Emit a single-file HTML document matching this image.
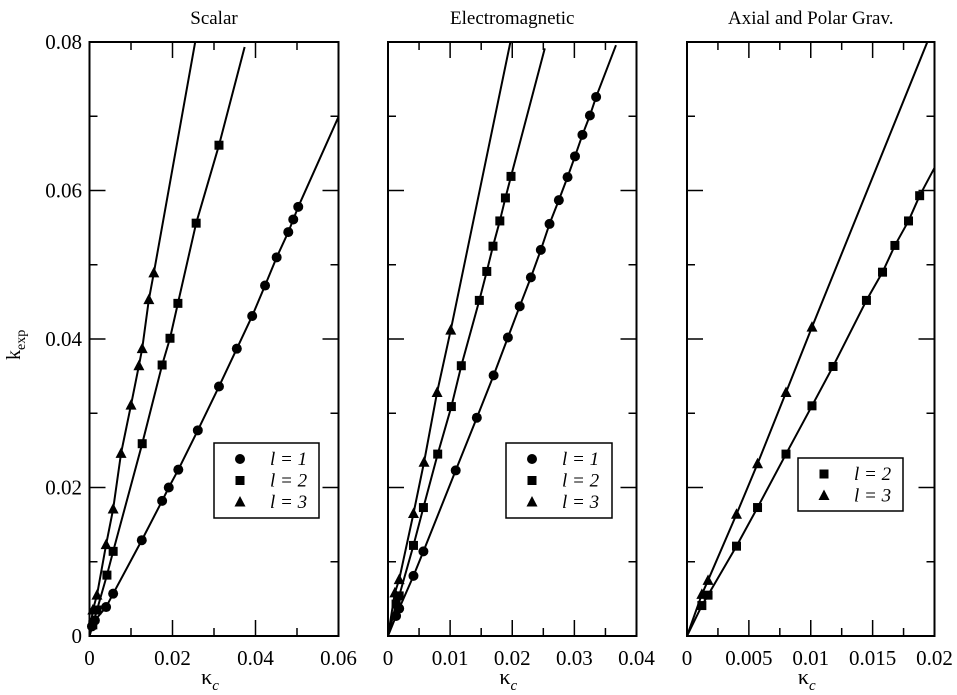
<!DOCTYPE html>
<html><head><meta charset="utf-8"><style>
html,body{margin:0;padding:0;background:#fff}
svg{display:block}
text{font-family:"Liberation Serif",serif;fill:#000}
</style></head><body>
<svg id="chart" width="957" height="695" viewBox="0 0 957 695" xmlns="http://www.w3.org/2000/svg"></svg>
<script>
// ---- data ----
const panelTitles = ["Scalar", "Electromagnetic", "Axial and  Polar  Grav."];
const xMaxes = [0.06, 0.04, 0.02];
const xTickLabels = [["0","0.02","0.04","0.06"],["0","0.01","0.02","0.03","0.04"],["0","0.005","0.01","0.015","0.02"]];
const yTickLabels = ["0","0.02","0.04","0.06","0.08"];
const yMax = 0.08;
// end slopes of lines per panel [l=1, l=2, l=3]
const slopesP1 = [1.25, 2.14, 3.12];
const slopesP2 = [2.18, 3.17, 4.04];
const slopesP3 = [null, 3.13, 4.12];
// Scalar
const p1L1x = [0.0503,0.0491,0.0479,0.0451,0.0423,0.0392,0.0355,0.0312,0.0261,0.0214,0.0191,0.0175,0.0126,0.0057,0.0040,0.0013,0.0006];
const p1L1y = [0.0578,0.0561,0.0544,0.0510,0.0472,0.0431,0.0387,0.0336,0.0277,0.0224,0.0200,0.0182,0.0129,0.0057,0.0039,0.0021,0.0013];
const p1L2x = [0.0312,0.0257,0.0213,0.0194,0.0175,0.0127,0.0057,0.0042,0.0018,0.0008];
const p1L2y = [0.0661,0.0556,0.0448,0.0401,0.0365,0.0259,0.0114,0.0082,0.0035,0.0015];
const p1L3x = [0.0155,0.0143,0.0127,0.0119,0.0100,0.0076,0.0057,0.0040,0.0018,0.0008];
const p1L3y = [0.0489,0.0453,0.0387,0.0364,0.0311,0.0246,0.0171,0.0123,0.0055,0.0035];
// Electromagnetic
const p2L1x = [0.0335,0.0325,0.0313,0.0301,0.0289,0.0275,0.0260,0.0246,0.0230,0.0212,0.0193,0.0170,0.0143,0.0109,0.0057,0.0041,0.0018,0.0013];
const p2L1y = [0.0726,0.0701,0.0675,0.0646,0.0618,0.0587,0.0555,0.0520,0.0483,0.0444,0.0402,0.0351,0.0294,0.0223,0.0114,0.0081,0.0037,0.0027];
const p2L2x = [0.0198,0.0189,0.0180,0.0169,0.0159,0.0147,0.0118,0.0102,0.0080,0.0057,0.0041,0.0018,0.0013];
const p2L2y = [0.0619,0.0590,0.0559,0.0525,0.0491,0.0452,0.0364,0.0309,0.0245,0.0173,0.0122,0.0054,0.0043];
const p2L3x = [0.0101,0.0079,0.0058,0.0041,0.0018,0.0011];
const p2L3y = [0.0412,0.0328,0.0234,0.0165,0.0076,0.0058];
// Gravitational
const p3L2x = [0.0188,0.0179,0.0168,0.0158,0.0145,0.0118,0.0101,0.0080,0.0057,0.0040,0.0017,0.0012];
const p3L2y = [0.0593,0.0559,0.0526,0.0490,0.0452,0.0363,0.0310,0.0245,0.0173,0.0121,0.0055,0.0041];
const p3L3x = [0.0101,0.0080,0.0057,0.0040,0.0017,0.0012];
const p3L3y = [0.0416,0.0328,0.0232,0.0164,0.0075,0.0056];

const NS="http://www.w3.org/2000/svg";
const svg=document.getElementById('chart');
function mk(tag,attrs,parent){const e=document.createElementNS(NS,tag);for(const k in attrs)e.setAttribute(k,attrs[k]);(parent||svg).appendChild(e);return e;}

const panels=[
 {left:89.5,right:338.5,series:[[p1L1x,p1L1y,'circle'],[p1L2x,p1L2y,'square'],[p1L3x,p1L3y,'triangle']],slopes:slopesP1,legend:{x:214,y:443,w:105,h:75,items:[['circle','1'],['square','2'],['triangle','3']]}},
 {left:388,right:636.5,series:[[p2L1x,p2L1y,'circle'],[p2L2x,p2L2y,'square'],[p2L3x,p2L3y,'triangle']],slopes:slopesP2,legend:{x:506,y:443,w:106,h:75,items:[['circle','1'],['square','2'],['triangle','3']]}},
 {left:687,right:934.5,series:[null,[p3L2x,p3L2y,'square'],[p3L3x,p3L3y,'triangle']],slopes:slopesP3,legend:{x:798,y:458,w:105,h:53,items:[['square','2'],['triangle','3']]}}
];
const yTop=42, yBottom=636;

function marker(g,shape,cx,cy){
  let m;
  if(shape==='circle') m=mk('circle',{cx:cx,cy:cy,r:5,fill:'#000'},g);
  else if(shape==='square') m=mk('rect',{x:cx-4.5,y:cy-4.5,width:9,height:9,fill:'#000'},g);
  else m=mk('polygon',{points:`${cx},${cy-6} ${cx-5.5},${cy+4.5} ${cx+5.5},${cy+4.5}`,fill:'#000'},g);
  
  
  return m;
}

panels.forEach((p,pi)=>{
  const xmax=xMaxes[pi];
  const X=v=>p.left+(v/xmax)*(p.right-p.left);
  const Y=v=>yBottom-(v/yMax)*(yBottom-yTop);
  const g=mk('g',{});
  
  
  const cid='clip'+pi;
  const cp=mk('clipPath',{id:cid},g);
  mk('rect',{x:p.left,y:yTop,width:p.right-p.left,height:yBottom-yTop},cp);
  const nx=xTickLabels[pi].length-1;
  const tg=mk('g',{stroke:'#000','stroke-width':1.5},g);
  
  
  for(let i=1;i<nx*2;i++){
    const v=xmax*i/(nx*2), x=X(v), L=(i%2===0)?16:8;
    mk('line',{x1:x,y1:yBottom,x2:x,y2:yBottom-L},tg);mk('line',{x1:x,y1:yTop,x2:x,y2:yTop+L},tg);
  }
  for(let i=1;i<8;i++){
    const y=Y(yMax*i/8), L=(i%2===0)?16:8;
    mk('line',{x1:p.left,y1:y,x2:p.left+L,y2:y},tg);mk('line',{x1:p.right,y1:y,x2:p.right-L,y2:y},tg);
  }
  xTickLabels[pi].forEach((lab,i)=>{
    const t=mk('text',{x:X(xmax*i/nx),y:yBottom+29,'text-anchor':'middle','font-size':21},g);
    t.textContent=lab;
    
    
  });
  if(pi===0){
    yTickLabels.forEach((lab,i)=>{
      const t=mk('text',{x:82,y:Y(yMax*i/4)+7,'text-anchor':'end','font-size':21},g);
      t.textContent=lab;
      
      
    });
  }
  p.series.forEach((s,si)=>{
    if(!s) return;
    const sl=p.slopes[si];
    const x2=Math.min(xmax, yMax/sl);
    const idx=s[0].map((v,k)=>k).sort((a,b)=>s[0][a]-s[0][b]);
    const pts=[[0,0]].concat(idx.map(k=>[s[0][k],s[1][k]]));
    const last=pts[pts.length-1];
    const ex=Math.max(last[0], x2);
    pts.push([ex, last[1]+(ex-last[0])*sl]);
    const ln=mk('polyline',{points:pts.map(q=>X(q[0])+','+Y(q[1])).join(' '),fill:'none',stroke:'#000','stroke-width':2,'stroke-linejoin':'round','clip-path':`url(#${cid})`},g);
    
    
    const sg=mk('g',{},g);
    
    
    s[0].forEach((xv,k)=>marker(sg,s[2],X(xv),Y(s[1][k])));
  });
  const fr=mk('rect',{x:p.left,y:yTop,width:p.right-p.left,height:yBottom-yTop,fill:'none',stroke:'#000','stroke-width':2},g);
  
  
  const tt=mk('text',{x:(p.left+p.right)/2,y:24,'text-anchor':'middle','font-size':19},g);
  tt.textContent=panelTitles[pi];
  
  
  const xt=mk('text',{x:(p.left+p.right)/2-4,y:684,'text-anchor':'middle','font-size':22},g);
  xt.innerHTML='κ<tspan font-size="15" font-style="italic" dy="6">c</tspan>';
  
  
  const L=p.legend;
  const lg=mk('g',{},g);
  
  
  mk('rect',{x:L.x,y:L.y,width:L.w,height:L.h,fill:'#fff',stroke:'#000','stroke-width':1.5},lg);
  L.items.forEach((it,k)=>{
    const cy=L.y+16+k*21.5;
    const e=mk('g',{},lg);
    
    
    marker(e,it[0],L.x+26,cy);
    const t=mk('text',{x:L.x+56,y:cy+6,'font-size':19,'font-style':'italic'},e);
    t.textContent='l = '+it[1];
  });
});
const yt=mk('text',{x:0,y:0,'font-size':20,transform:'translate(20,360) rotate(-90)'});
yt.innerHTML='k<tspan font-size="14" dy="5">exp</tspan>';


</script>
</body></html>
